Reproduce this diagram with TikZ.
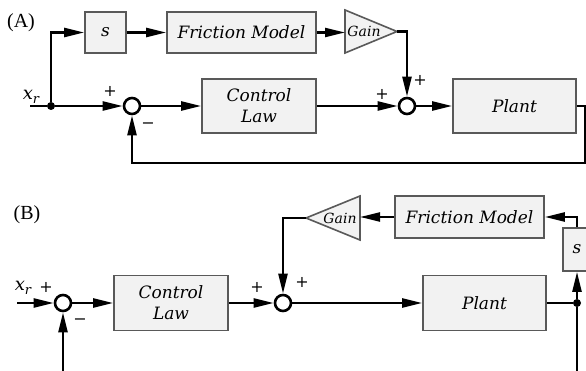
\documentclass[tikz,border=0pt]{standalone}
\usepackage{fontspec}
\setmainfont{Liberation Serif}
\newfontfamily\blkfont{DejaVu Serif}
\usetikzlibrary{arrows.meta}
\begin{document}
\begin{tikzpicture}[x=1pt,y=-1pt,
  blk/.style={draw=black!65, line width=1.6pt, fill=black!5, inner sep=0, font=\blkfont\itshape\fontsize{17}{21}\selectfont, align=center},
  gainshape/.style={draw=black!65, line width=1.6pt, fill=black!5},
  gaintext/.style={font=\blkfont\itshape\fontsize{14}{14}\selectfont, inner sep=0},
  sumnode/.style={circle, draw=black, line width=2.6pt, fill=white, minimum size=16pt, inner sep=0},
  wire/.style={line width=2.3pt},
  arr/.style={wire, -{Triangle[length=20pt,width=9pt]}},
  sign/.style={font=\blkfont\fontsize{16}{16}\selectfont, inner sep=0},
  dotnode/.style={circle, fill=black, minimum size=8pt, inner sep=0},
  lab/.style={font=\fontsize{20}{22}\selectfont, inner sep=0},
  xlab/.style={font=\blkfont\itshape\fontsize{18}{18}\selectfont, inner sep=0},
  ]
\useasboundingbox (0,0) rectangle (586,371);
\clip (0,0) rectangle (586,371);
\fill[white] (0,0) rectangle (586,371);

% ---------------- Panel A ----------------
\node[lab] (labA) at (21,23) {(A)};
\node[blk, minimum width=41pt, minimum height=41pt] (sA) at (105.5,32.5) {s};
\node[blk, minimum width=149pt, minimum height=41pt] (fmA) at (241.5,32.5) {Friction Model};
\draw[gainshape] (345,10) -- (345,53) -- (397,31.5) -- cycle;
\coordinate (gAin) at (345,32.5);
\coordinate (gAout) at (397,31.5);
\node[gaintext] (gAt) at (364,31) {Gain};
\node[blk, minimum width=114pt, minimum height=54pt] (clA) at (259,106) {Control\\Law};
\node[blk, minimum width=123pt, minimum height=54pt] (plantA) at (514.5,106) {Plant};
\node[sumnode] (s1A) at (132,106) {};
\node[sumnode] (s2A) at (407,106) {};
\node[dotnode] (jA) at (51,106) {};
\coordinate (inA) at (30,106);
\coordinate (cA1) at (585,106);
\coordinate (cA2) at (585,163);
\node[xlab] (xA) at (31,97) {x\raisebox{-4pt}{\fontsize{13}{13}\selectfont r}};
\node[sign] (pA1) at (110,91) {+};
\node[sign] (mA1) at (148,126) {\symbol{"2212}};
\node[sign] (pA2) at (382,94) {+};
\node[sign] (pA3) at (420,80) {+};

\draw[wire] (inA) -- (jA);
\draw[arr] (jA) -- (s1A);
\draw[arr] (jA) |- (sA);
\draw[arr] (sA) -- (fmA);
\draw[arr] (fmA) -- (gAin);
\draw[arr] (gAout) -| (s2A);
\draw[arr] (s1A) -- (clA);
\draw[arr] (clA) -- (s2A);
\draw[arr] (s2A) -- (plantA);
\draw[arr] (plantA.east) -- (cA1) -- (cA2) -| (s1A.south);

% ---------------- Panel B ----------------
\node[lab] (labB) at (27,215) {(B)};
\node[blk, minimum width=114pt, minimum height=55pt] (clB) at (171,303) {Control\\Law};
\node[blk, minimum width=123pt, minimum height=55pt] (plantB) at (484.5,303) {Plant};
\node[blk, minimum width=149pt, minimum height=42pt] (fmB) at (469.5,217) {Friction Model};
\node[blk, minimum width=28pt, minimum height=43pt] (sB) at (577,249.5) {s};
\draw[gainshape] (360,196) -- (360,240) -- (306,218) -- cycle;
\coordinate (gBin) at (360,217);
\coordinate (gBout) at (306,218);
\node[gaintext] (gBt) at (340,218) {Gain};
\node[sumnode] (s1B) at (63,303) {};
\node[sumnode] (s2B) at (283,303) {};
\node[dotnode] (jB) at (577,303) {};
\coordinate (inB) at (17,303);
\coordinate (fbB) at (63,371);
\coordinate (botB) at (577,371);
\node[xlab] (xB) at (23,288) {x\raisebox{-4pt}{\fontsize{13}{13}\selectfont r}};
\node[sign] (pB1) at (46,287) {+};
\node[sign] (mB1) at (80,322) {\symbol{"2212}};
\node[sign] (pB2) at (257,287) {+};
\node[sign] (pB3) at (302,282) {+};

\draw[arr] (inB) -- (s1B);
\draw[arr] (fbB) -- (s1B);
\draw[arr] (s1B) -- (clB);
\draw[arr] (clB) -- (s2B);
\draw[arr] (s2B) -- (plantB);
\draw[wire] (plantB) -- (jB);
\draw[wire] (jB) -- (botB);
\draw[arr] (jB) -- (sB);
\draw[arr] (sB.north) |- (fmB.east);
\draw[arr] (fmB) -- (gBin);
\draw[arr] (gBout) -| (s2B);
\end{tikzpicture}
\end{document}
